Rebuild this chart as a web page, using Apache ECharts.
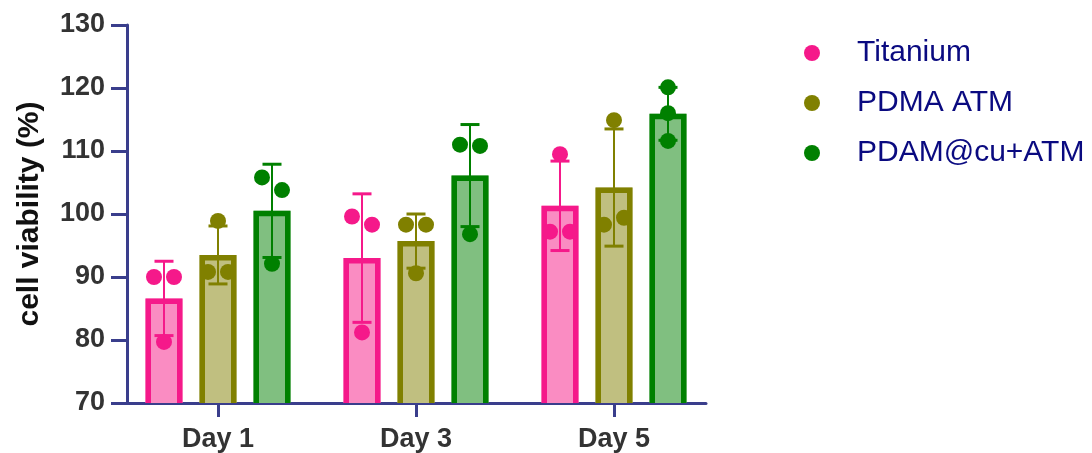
<!DOCTYPE html>
<html>
<head>
<meta charset="utf-8">
<script src="https://cdn.jsdelivr.net/npm/echarts@6/dist/echarts.min.js"></script>
<style>
  html, body { margin: 0; padding: 0; background: #ffffff; }
  #chart { width: 1092px; height: 453px; }
</style>
</head>
<body>
<div id="chart"></div>
<script>
// Cell viability over time for three surface treatments (mean ± SD, n = 3)
const days = ['Day 1', 'Day 3', 'Day 5'];
const yTicks = [70, 80, 90, 100, 110, 120, 130];

const titaniumMean = [86.6, 93.0, 101.3];
const titaniumSD = [5.9, 10.2, 7.1];
const titaniumReps = [[90.0, 90.0, 79.7], [99.6, 98.3, 81.2], [109.5, 97.2, 97.2]];

const pdmaMean = [93.5, 95.7, 104.2];
const pdmaSD = [4.6, 4.3, 9.3];
const pdmaReps = [[98.9, 90.8, 90.8], [98.3, 98.3, 90.6], [114.9, 98.3, 99.4]];

const pdamCuMean = [100.5, 106.1, 115.9];
const pdamCuSD = [7.4, 8.1, 4.2];
const pdamCuReps = [[105.8, 103.8, 92.1], [111.0, 110.8, 96.8], [120.1, 116.0, 111.6]];

// side each replicate dot is nudged to (-1 left, 0 centre, 1 right) so dots don't overlap
const titaniumSide = [[-1, 1, 0], [-1, 1, 0], [0, -1, 1]];
const pdmaSide = [[0, -1, 1], [-1, 1, 0], [0, -1, 1]];
const pdamCuSide = [[-1, 1, 0], [-1, 1, 0], [0, 0, 0]];

const groups = [
  { name: 'Titanium', mean: titaniumMean, sd: titaniumSD, reps: titaniumReps, side: titaniumSide,
    line: '#f5198a', fill: '#fa8cc2' },
  { name: 'PDMA ATM', mean: pdmaMean, sd: pdmaSD, reps: pdmaReps, side: pdmaSide,
    line: '#808000', fill: '#c0bf80' },
  { name: 'PDAM@cu+ATM', mean: pdamCuMean, sd: pdamCuSD, reps: pdamCuReps, side: pdamCuSide,
    line: '#008000', fill: '#80bf80' }
];

const AXIS = '#3a3e8c';
const BAR_W = 37, BAR_STEP = 54, BORDER = 5.5;
const DOT_R = 8, DOT_SHIFT = 10, CAP_HALF = 9.5;

function makeRender(gi) {
  const g = groups[gi];
  return function (params, api) {
    const di = api.value(0);
    const mean = api.value(1), sd = api.value(2);
    const center = api.coord([di, mean]);
    const cx = center[0] + (gi - 1) * BAR_STEP;
    const yTop = center[1];
    const yBase = api.coord([di, yTicks[0]])[1];
    const yHi = api.coord([di, mean + sd])[1];
    const yLo = api.coord([di, mean - sd])[1];
    const left = cx - BAR_W / 2, right = cx + BAR_W / 2, h = BORDER / 2;
    const children = [
      { type: 'rect', shape: { x: left, y: yTop, width: BAR_W, height: yBase - yTop },
        style: { fill: g.fill } },
      { type: 'polyline',
        shape: { points: [[left + h, yBase], [left + h, yTop + h], [right - h, yTop + h], [right - h, yBase]] },
        style: { stroke: g.line, lineWidth: BORDER, fill: null, lineJoin: 'miter' } },
      { type: 'line', shape: { x1: cx, y1: yHi, x2: cx, y2: yLo },
        style: { stroke: g.line, lineWidth: 2 } },
      { type: 'line', shape: { x1: cx - CAP_HALF, y1: yHi, x2: cx + CAP_HALF, y2: yHi },
        style: { stroke: g.line, lineWidth: 3 } },
      { type: 'line', shape: { x1: cx - CAP_HALF, y1: yLo, x2: cx + CAP_HALF, y2: yLo },
        style: { stroke: g.line, lineWidth: 3 } }
    ];
    for (let k = 0; k < 3; k++) {
      const v = api.value(3 + k);
      const y = api.coord([di, v])[1];
      const x = cx + g.side[di][k] * DOT_SHIFT;
      children.push({ type: 'circle', shape: { cx: x, cy: y, r: DOT_R }, style: { fill: g.line } });
    }
    return { type: 'group', children: children };
  };
}

const series = groups.map(function (g, gi) {
  return {
    name: g.name,
    type: 'custom',
    xAxisIndex: 0,
    yAxisIndex: 0,
    itemStyle: { color: g.line },
    encode: { x: 0, y: 1 },
    renderItem: makeRender(gi),
    data: days.map(function (d, di) {
      return [di, g.mean[di], g.sd[di]].concat(g.reps[di]);
    })
  };
});

const chart = echarts.init(document.getElementById('chart'), null, { renderer: 'canvas' });
chart.setOption({
  animation: false,
  backgroundColor: '#ffffff',
  textStyle: { fontFamily: 'Liberation Sans, Arial, sans-serif' },
  legend: {
    orient: 'vertical',
    left: 804,
    top: 36,
    padding: 0,
    itemWidth: 80,
    itemHeight: 16,
    itemGap: 16,
    selectedMode: false,
    textStyle: { fontSize: 30, color: '#0a0a80', lineHeight: 34, padding: [0, 0, 0, 0] },
    data: groups.map(function (g) {
      return { name: g.name, icon: 'circle', itemStyle: { color: g.line } };
    })
  },
  grid: [
    // plotting area for the bars and dots
    { left: 119, top: 25, width: 594, height: 378, outerBoundsMode: 'none', containLabel: false },
    // visible axes frame
    { left: 127, top: 25, width: 579, height: 378, outerBoundsMode: 'none', containLabel: false }
  ],
  xAxis: [
    {
      type: 'category', gridIndex: 0, data: days,
      axisLine: { show: false },
      axisTick: { show: true, alignWithLabel: true, length: 14, lineStyle: { color: AXIS, width: 3 } },
      axisLabel: { fontSize: 27, fontWeight: 'bold', color: '#333333', margin: 23 },
      splitLine: { show: false }
    },
    {
      type: 'value', gridIndex: 1, min: 0, max: 1,
      axisLine: { show: true, lineStyle: { color: AXIS, width: 3 } },
      axisTick: { show: false }, axisLabel: { show: false }, splitLine: { show: false }
    }
  ],
  yAxis: [
    { type: 'value', gridIndex: 0, min: yTicks[0], max: yTicks[yTicks.length - 1], show: false, splitLine: { show: false } },
    {
      type: 'value', gridIndex: 1, min: yTicks[0], max: yTicks[yTicks.length - 1], interval: 10,
      axisLine: { show: true, lineStyle: { color: AXIS, width: 3 } },
      axisTick: { show: true, length: 16, lineStyle: { color: AXIS, width: 3 } },
      axisLabel: { fontSize: 27, fontWeight: 'bold', color: '#333333', margin: 22 },
      splitLine: { show: false },
      name: 'cell viability (%)',
      nameLocation: 'middle',
      nameRotate: 90,
      nameGap: 82,
      nameTextStyle: { fontSize: 30, fontWeight: 'bold', color: '#111111' }
    }
  ],
  series: series
});
</script>
</body>
</html>
